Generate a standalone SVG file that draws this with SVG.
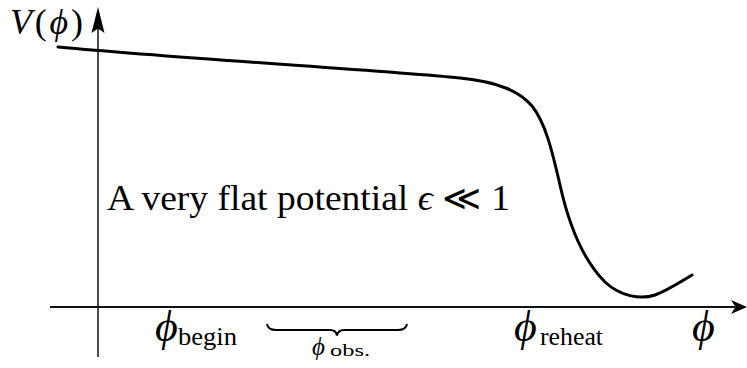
<svg xmlns="http://www.w3.org/2000/svg" width="747" height="368" viewBox="0 0 747 368">
<style>
text{font-family:"Liberation Serif","Times New Roman",serif;fill:#000}
.it{font-style:italic}
.axis{stroke:#111;fill:none}
</style>
<rect width="747" height="368" fill="#fff"/>
<g id="axes">
<line class="axis" x1="98" y1="357" x2="98" y2="28" stroke-width="1.5"/>
<path d="M98,7 L104.5,33 L98,28.5 L91.5,33 Z" fill="#000"/>
<line class="axis" x1="50" y1="307" x2="735" y2="307" stroke-width="2"/>
<path d="M747,307 L731,300 L735.5,307 L731,314 Z" fill="#000"/>
</g>
<g id="curve">
<path d="M58,47 C200,60 380,70 460,78 C500,82 520,92 532,106 C545,122 552,150 560,185 C570,230 585,262 605,282 C620,296 640,300 655,295 C668,290 680,282 692,275" fill="none" stroke="#000" stroke-width="3" stroke-linecap="round"/>
</g>
<g id="ylabel">
<text x="10" y="34" font-size="36" textLength="73" lengthAdjust="spacing"><tspan class="it">V</tspan>(<tspan class="it">ϕ</tspan>)</text>
</g>
<g id="note">
<text x="107" y="210" font-size="35" textLength="403" lengthAdjust="spacingAndGlyphs">A very flat potential <tspan class="it">ϵ</tspan> ≪ 1</text>
</g>
<g id="phi-begin">
<text class="it" x="155" y="341" font-size="44">ϕ</text>
<text x="178" y="345" font-size="25" textLength="59" lengthAdjust="spacingAndGlyphs">begin</text>
</g>
<g id="phi-obs">
<path d="M267,324 Q268,330 276,330 L330,330 Q336,330 337,335.5 Q338,330 344,330 L398,330 Q406,330 407,324" fill="none" stroke="#000" stroke-width="2"/>
<text class="it" x="312" y="355" font-size="25">ϕ</text>
<text x="330" y="356" font-size="16" textLength="40" lengthAdjust="spacingAndGlyphs">obs.</text>
</g>
<g id="phi-reheat">
<text class="it" x="514" y="341" font-size="44">ϕ</text>
<text x="540" y="345" font-size="25" textLength="63" lengthAdjust="spacingAndGlyphs">reheat</text>
</g>
<g id="phi">
<text class="it" x="692" y="341" font-size="44">ϕ</text>
</g>
</svg>
